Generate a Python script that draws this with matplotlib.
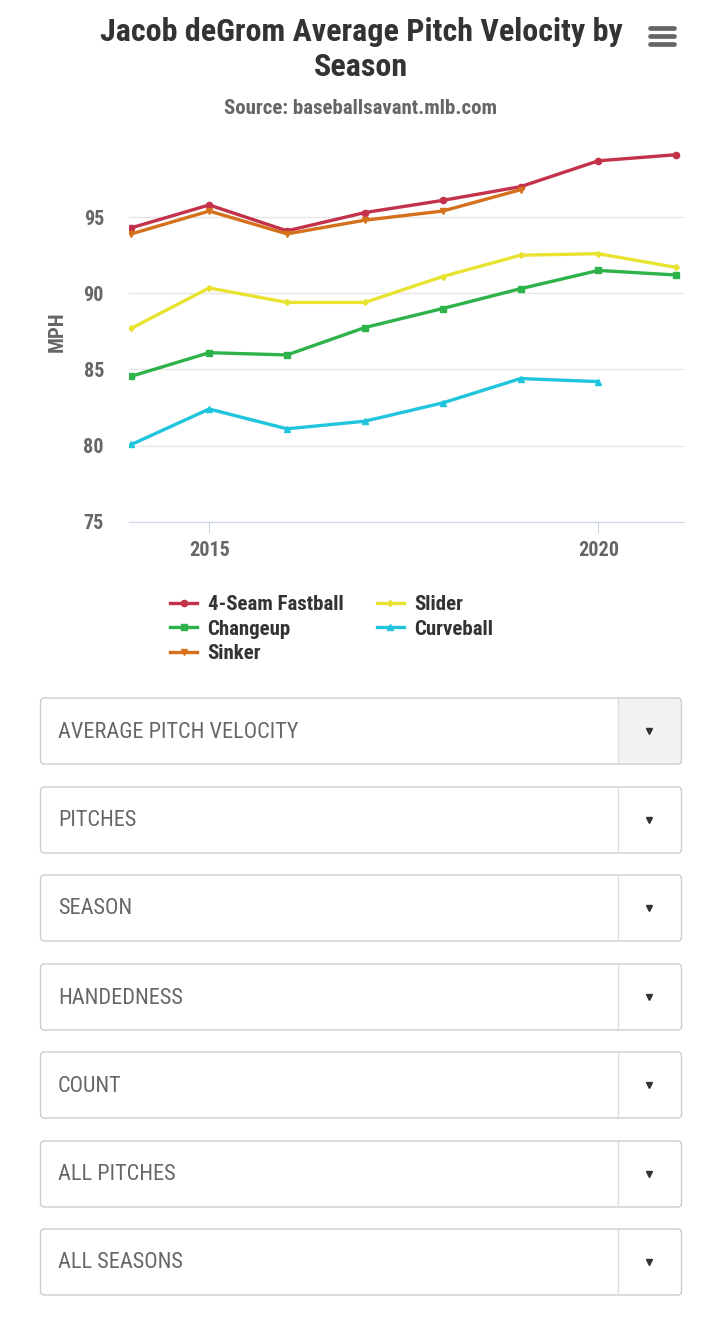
import matplotlib
matplotlib.use("Agg")
import matplotlib.pyplot as plt
from matplotlib.patches import FancyBboxPatch, Rectangle

plt.rcParams['font.family'] = ['Roboto Condensed', 'Roboto', 'DejaVu Sans']

years = [2014, 2015, 2016, 2017, 2018, 2019, 2020, 2021]
fastball = [94.3, 95.8, 94.1, 95.3, 96.1, 97.0, 98.7, 99.1]
sinker = [93.9, 95.4, 93.9, 94.8, 95.4, 96.8]
slider = [87.7, 90.35, 89.4, 89.4, 91.1, 92.5, 92.6, 91.7]
changeup = [84.55, 86.1, 85.95, 87.75, 89.0, 90.3, 91.5, 91.2]
curveball = [80.07, 82.4, 81.1, 81.6, 82.8, 84.4, 84.2]

y_ticks = [75, 80, 85, 90, 95]
x_ticks = [2015, 2020]
menus = ["AVERAGE PITCH VELOCITY", "PITCHES", "SEASON", "HANDEDNESS",
         "COUNT", "ALL PITCHES", "ALL SEASONS"]

W, H = 720, 1322
fig = plt.figure(figsize=(W / 100, H / 100), dpi=100)

# pixel overlay for page furniture
bg = fig.add_axes([0, 0, 1, 1])
bg.set_xlim(0, W)
bg.set_ylim(H, 0)
bg.axis("off")

bg.text(361, 32, "Jacob deGrom Average Pitch Velocity by", ha="center", va="center",
        fontsize=23, fontweight="bold", color="#333333")
bg.text(361, 67, "Season", ha="center", va="center",
        fontsize=23, fontweight="bold", color="#333333")
bg.text(360, 108, "Source: baseballsavant.mlb.com", ha="center", va="center",
        fontsize=15, fontweight="bold", color="#666666")

# hamburger icon
for yy in [28, 36, 44]:
    bg.plot([650, 674], [yy, yy], color="#666666", lw=3.4, solid_capstyle="round")

# chart
ax = fig.add_axes([129 / W, 1 - 521.7 / H, (684 - 129) / W, (521.7 - 141) / H])
series = [
    ("4-Seam Fastball", fastball, "#c3314a", "o", 4.5),
    ("Slider", slider, "#e8e230", "D", 3),
    ("Changeup", changeup, "#2eb34a", "s", 4.5),
    ("Curveball", curveball, "#1fc5dc", "^", 4.5),
    ("Sinker", sinker, "#d5701c", "v", 4.5),
]
for name, vals, col, mk, ms in series:
    ax.plot(years[:len(vals)], vals, color=col, lw=2.4, marker=mk, ms=ms,
            label=name, zorder=3)

ax.set_xlim(2013.97, 2021.1)
ax.set_ylim(75, 100)
ax.set_yticks(y_ticks)
ax.set_xticks(x_ticks)
ax.grid(axis="y", color="#e6e6e6", lw=1)
ax.set_axisbelow(True)
for s in ["top", "right", "left"]:
    ax.spines[s].set_visible(False)
ax.spines["bottom"].set_color("#ccd6eb")
ax.tick_params(axis="y", length=0, pad=18, labelsize=14.5, labelcolor="#666666")
ax.tick_params(axis="x", length=8, color="#ccd6eb", pad=6, labelsize=14.5,
               labelcolor="#666666")
for lab in ax.get_xticklabels() + ax.get_yticklabels():
    lab.set_fontweight("bold")
ax.set_ylabel("MPH", fontsize=15, fontweight="bold", color="#666666")
ax.yaxis.set_label_coords((67 - 129) / (684 - 129), 0.5)

handles, labels = ax.get_legend_handles_labels()
order = [0, 2, 4, 1, 3]
leg = fig.legend([handles[i] for i in order], [labels[i] for i in order],
                 ncol=2, loc="upper left", bbox_to_anchor=(170 / W, 1 - 595 / H),
                 frameon=False, fontsize=15, handlelength=1.3, handletextpad=0.5,
                 columnspacing=1.6, labelspacing=0.27, borderaxespad=0,
                 borderpad=0)
for t in leg.get_texts():
    t.set_fontweight("bold")
    t.set_color("#333333")

# dropdown menus
tops = [698, 787, 875, 964, 1052, 1141, 1229]
for i, (top, label) in enumerate(zip(tops, menus)):
    h = 66
    if i == 0:
        bg.add_patch(Rectangle((618, top + 1), 63, h - 2, facecolor="#f2f2f2",
                               edgecolor="none"))
    bg.add_patch(FancyBboxPatch((40.5, top), 641, h,
                                boxstyle="round,pad=0,rounding_size=4",
                                facecolor="none", edgecolor="#cccccc", lw=1))
    bg.plot([618, 618], [top + 1, top + h - 1], color="#dddddd", lw=1)
    bg.text(58, top + h / 2 + 1, label, ha="left", va="center", fontsize=16,
            color="#666666")
    bg.plot([649], [top + h / 2], marker="v", ms=5, color="#333333")

fig.savefig("out.png", dpi=100)
